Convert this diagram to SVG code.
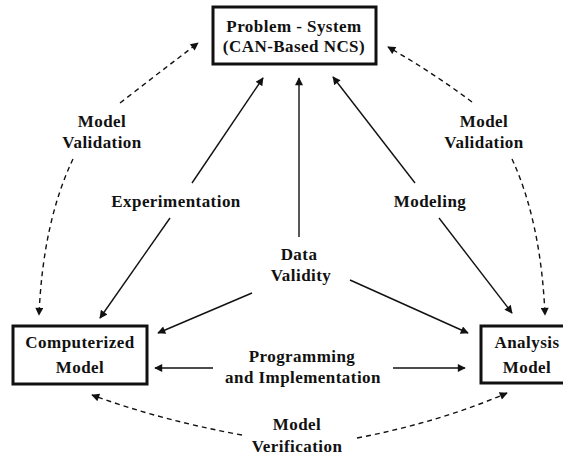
<svg xmlns="http://www.w3.org/2000/svg" width="563" height="456" viewBox="0 0 563 456">
<style>
text{font-family:"Liberation Serif","Times New Roman",serif;font-weight:bold;font-size:17px;fill:#111;text-anchor:middle;letter-spacing:0.45px}
.box{fill:#fff;stroke:#111;stroke-width:3}
.solid{fill:none;stroke:#111;stroke-width:1.4;marker-end:url(#ah)}
.dash{fill:none;stroke:#111;stroke-width:1.4;stroke-dasharray:5 4;marker-end:url(#ah)}
</style>
<defs>
<marker id="ah" viewBox="0 0 10 10" refX="9" refY="5" markerWidth="10" markerHeight="8" markerUnits="userSpaceOnUse" orient="auto">
<path d="M0,0 L10,5 L0,10 Z" fill="#111"/>
</marker>
</defs>
<rect width="563" height="456" fill="#fff"/>
<g id="connectors">
<path class="solid" d="M192,183 L263,78"/>
<path class="solid" d="M170,218 L100,318"/>
<path class="solid" d="M299,237 L299,78"/>
<path class="solid" d="M252,293 L158,333"/>
<path class="solid" d="M350,280 L468,333"/>
<path class="solid" d="M415,183 L333,77"/>
<path class="solid" d="M439,218 L512,313"/>
<path class="solid" d="M213,368 L155,368"/>
<path class="solid" d="M393,368 L465,368"/>
<path class="dash" d="M120,103 Q160,72 198,43"/>
<path class="dash" d="M73,159 Q43,222 39,315"/>
<path class="dash" d="M472,102 Q432,72 388,47"/>
<path class="dash" d="M512,159 Q541,222 545,315"/>
<path class="dash" d="M242,435 Q160,420 92,395"/>
<path class="dash" d="M357,438 Q440,422 507,393"/>
</g>
<g id="problem-system">
<rect class="box" x="213" y="7" width="163" height="57"/>
<text x="294" y="32">Problem - System</text>
<text x="294" y="52">(CAN-Based NCS)</text>
</g>
<g id="computerized-model">
<rect class="box" x="13" y="326" width="134" height="58"/>
<text x="80" y="348">Computerized</text>
<text x="80" y="373">Model</text>
</g>
<g id="analysis-model">
<rect class="box" x="481" y="326" width="92" height="57"/>
<text x="527" y="348">Analysis</text>
<text x="527" y="373">Model</text>
</g>
<g id="labels">
<text x="102" y="127">Model</text>
<text x="102" y="148">Validation</text>
<text x="484" y="127">Model</text>
<text x="484" y="148">Validation</text>
<text x="176" y="207">Experimentation</text>
<text x="430" y="207">Modeling</text>
<text x="299" y="260">Data</text>
<text x="301" y="281">Validity</text>
<text x="302" y="362">Programming</text>
<text x="303" y="383">and Implementation</text>
<text x="297" y="430">Model</text>
<text x="297" y="452">Verification</text>
</g>
</svg>
